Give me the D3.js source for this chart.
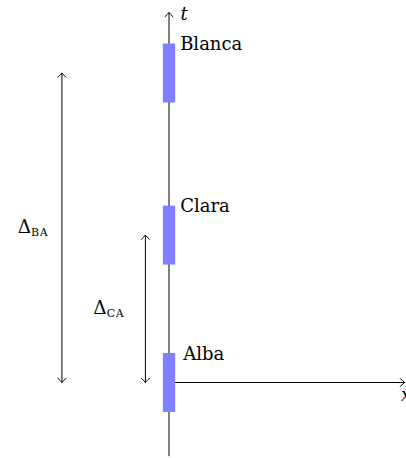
<!DOCTYPE html>
<html>
<head>
<meta charset="utf-8">
<script src="https://cdn.jsdelivr.net/npm/d3@7"></script>
<style>
  html, body { margin: 0; padding: 0; background: #fff; }
  svg { display: block; }
</style>
</head>
<body>
<script>
// ---- data ----
const names = ["Alba", "Clara", "Blanca"];
const times = [0, 5, 10.5];          // event times on the t axis
const halfDur = [1, 1, 1];           // half-height of each event bar (t units)
const deltaFrom = ["Alba", "Alba"];
const deltaTo = ["Blanca", "Clara"];
const deltaSubs = ["BA", "CA"];
const tRange = [-2.5, 12.55];
const xRange = [0, 8];

// ---- layout ----
const W = 406, H = 458;
const FONT = "'DejaVu Serif', 'Liberation Serif', serif";
const FS = 18;
const x = d3.scaleLinear().domain([0, 8]).range([169, 405]);
const y = d3.scaleLinear().domain([0, 10.5]).range([382.5, 73]);
const barW = 12.3;
const deltaArrowX = [-3.63, -0.8];
const deltaLabelX = [-4.61, -2.04];
const blue = "#8080ff";

const svg = d3.select("body").append("svg").attr("width", W).attr("height", H)
  .attr("font-family", FONT);

function arrowHead(g, px, py, dir, color) {
  let d;
  if (dir === "up") d = `M${px-4},${py+4.2} Q${px-1},${py+1.3} ${px},${py} Q${px+1},${py+1.3} ${px+4},${py+4.2}`;
  else if (dir === "down") d = `M${px-4},${py-4.2} Q${px-1},${py-1.3} ${px},${py} Q${px+1},${py-1.3} ${px+4},${py-4.2}`;
  else d = `M${px-4.2},${py-4} Q${px-1.3},${py-1} ${px},${py} Q${px-1.3},${py+1} ${px-4.2},${py+4}`;
  g.append("path").attr("d", d).attr("fill", "none").attr("stroke", color)
    .attr("stroke-width", 1).attr("stroke-linecap", "round");
}

// t axis
const gAx = svg.append("g");
gAx.append("line")
  .attr("x1", x(0)).attr("x2", x(0))
  .attr("y1", y(tRange[0])).attr("y2", y(tRange[1]))
  .attr("stroke", "#000").attr("stroke-width", 1);
arrowHead(gAx, x(0), y(tRange[1]), "up", "#000");
gAx.append("text").attr("x", x(0) + 11.5).attr("y", y(tRange[1]) + 7)
  .attr("font-style", "italic").attr("font-size", FS).text("t");

// x axis
gAx.append("line")
  .attr("x1", x(xRange[0])).attr("x2", x(xRange[1]))
  .attr("y1", y(0)).attr("y2", y(0))
  .attr("stroke", "#000").attr("stroke-width", 1);
arrowHead(gAx, x(xRange[1]) - 0.5, y(0), "right", "#000");
gAx.append("text").attr("x", x(xRange[1]) - 4).attr("y", y(0) + 18)
  .attr("font-style", "italic").attr("font-size", FS).text("x");

// event bars
const ev = svg.append("g").selectAll("g").data(names.map((n, i) => ({n, t: times[i], h: halfDur[i]})))
  .join("g");
ev.append("rect")
  .attr("x", x(0) - barW / 2).attr("width", barW)
  .attr("y", d => y(d.t + d.h)).attr("height", d => y(d.t - d.h) - y(d.t + d.h))
  .attr("fill", blue);
ev.append("text")
  .attr("x", d => x(0) + barW / 2 + (d.n === "Alba" ? 8 : 5))
  .attr("y", d => y(d.t + d.h) + 6.8)
  .attr("font-size", FS)
  .text(d => d.n);

// delta arrows
const tOf = n => times[names.indexOf(n)];
deltaSubs.forEach((s, i) => {
  const g = svg.append("g");
  const ax = x(deltaArrowX[i]);
  const y0 = y(tOf(deltaFrom[i])), y1 = y(tOf(deltaTo[i]));
  g.append("line").attr("x1", ax).attr("x2", ax).attr("y1", y0).attr("y2", y1)
    .attr("stroke", "#000").attr("stroke-width", 1);
  arrowHead(g, ax, y1, "up", "#000");
  arrowHead(g, ax, y0, "down", "#000");
  const mid = (y0 + y1) / 2;
  const t = g.append("text").attr("x", x(deltaLabelX[i])).attr("y", mid + 4.8)
    .attr("text-anchor", "middle").attr("font-size", FS);
  t.append("tspan").attr("font-size", 18.5).text("Δ");
  t.append("tspan").attr("dy", 3.8).attr("font-size", 11)
    .attr("letter-spacing", "0.6px").text(s);
});
</script>
</body>
</html>
